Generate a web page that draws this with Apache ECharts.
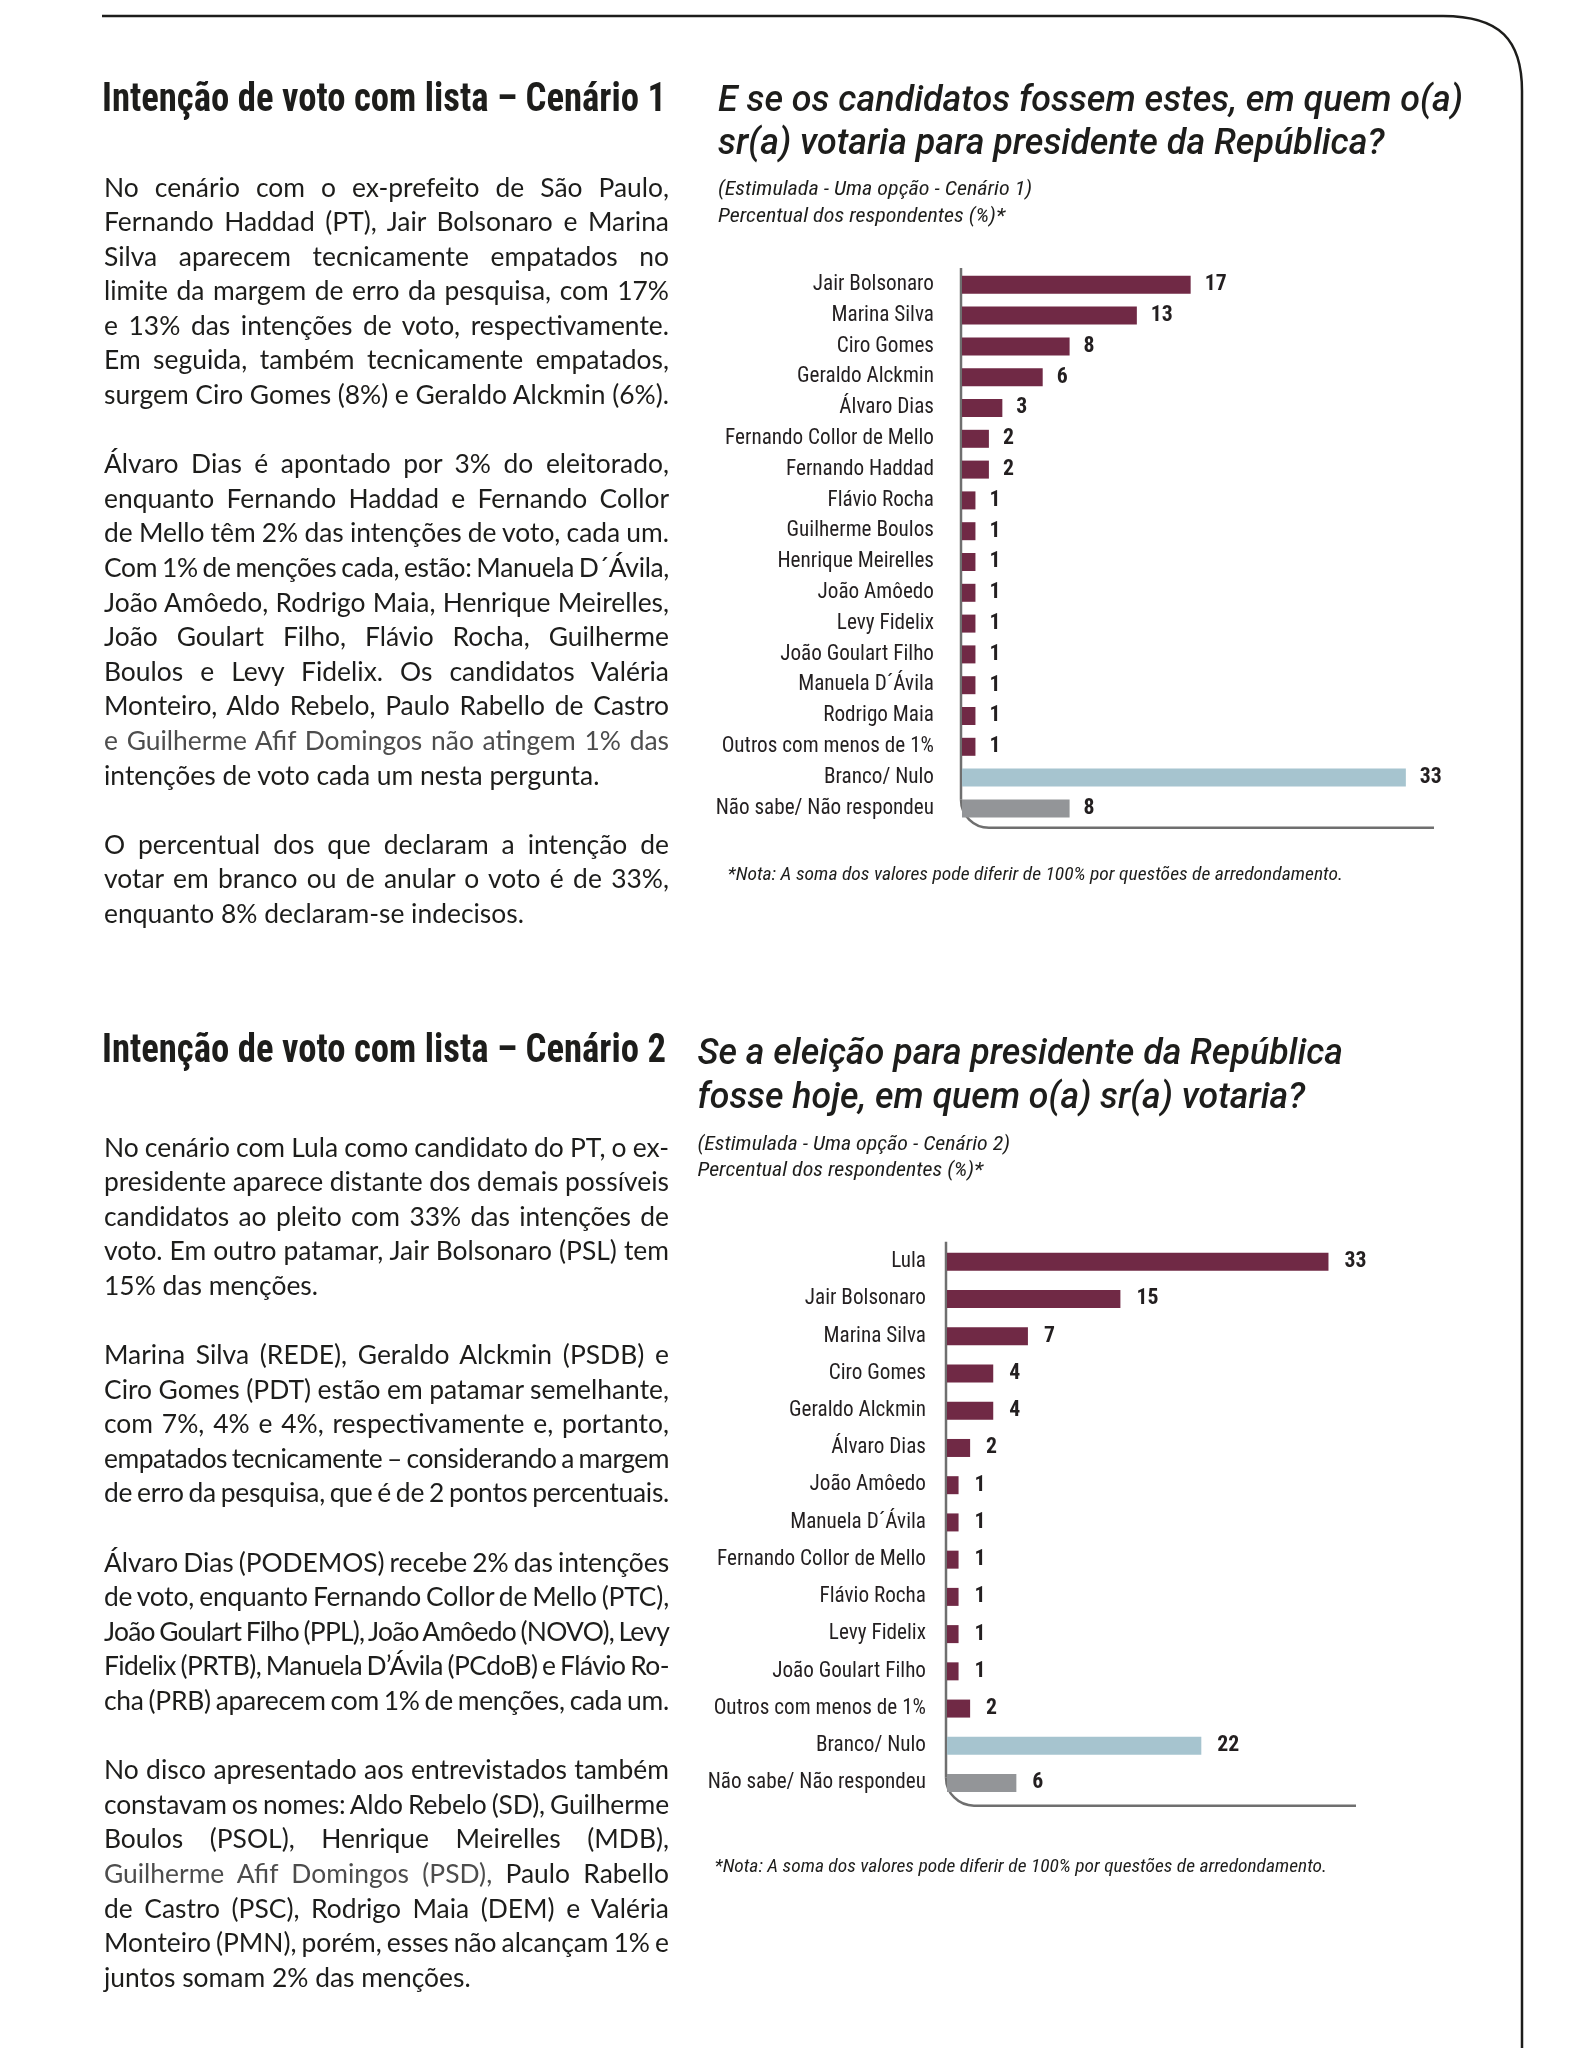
<!DOCTYPE html>
<html><head><meta charset="utf-8">
<script src="https://cdn.jsdelivr.net/npm/echarts@6/dist/echarts.min.js"></script>
<style>
html,body{margin:0;padding:0;background:#fff;}
#page{position:relative;width:1570px;height:2048px;overflow:hidden;background:#fff;}
#chart{position:absolute;left:0;top:0;width:1570px;height:2048px;}
.col{position:absolute;left:104px;width:565px;color:#1d1d1b;font-family:Lato,'Open Sans','Noto Sans',sans-serif;font-size:25px;}
.ln{height:34.6px;line-height:34.6px;white-space:nowrap;}
.h{position:absolute;left:102px;height:50px;line-height:50px;white-space:nowrap;font-family:'Roboto Condensed','DejaVu Sans Condensed',sans-serif;font-weight:700;font-size:40px;color:#1d1d1b;transform-origin:0 50%;}
.g{color:#4d4d4d;}
</style></head>
<body><div id="page"><div id="chart"></div>
<div class="h" id="h1" style="top:73px">Intenção de voto com lista – Cenário 1</div>
<div class="col" style="top:169.5px">
<div class="ln j"><span>No cenário com o ex-prefeito de São Paulo,</span></div>
<div class="ln j"><span>Fernando Haddad (PT), Jair Bolsonaro e Marina</span></div>
<div class="ln j"><span>Silva aparecem tecnicamente empatados no</span></div>
<div class="ln j"><span>limite da margem de erro da pesquisa, com 17%</span></div>
<div class="ln j"><span>e 13% das intenções de voto, respectivamente.</span></div>
<div class="ln j"><span>Em seguida, também tecnicamente empatados,</span></div>
<div class="ln j"><span>surgem Ciro Gomes (8%) e Geraldo Alckmin (6%).</span></div>
<div class="ln"></div>
<div class="ln j"><span>Álvaro Dias é apontado por 3% do eleitorado,</span></div>
<div class="ln j"><span>enquanto Fernando Haddad e Fernando Collor</span></div>
<div class="ln j"><span>de Mello têm 2% das intenções de voto, cada um.</span></div>
<div class="ln j"><span>Com 1% de menções cada, estão: Manuela D´Ávila,</span></div>
<div class="ln j"><span>João Amôedo, Rodrigo Maia, Henrique Meirelles,</span></div>
<div class="ln j"><span>João Goulart Filho, Flávio Rocha, Guilherme</span></div>
<div class="ln j"><span>Boulos e Levy Fidelix. Os candidatos Valéria</span></div>
<div class="ln j"><span>Monteiro, Aldo Rebelo, Paulo Rabello de Castro</span></div>
<div class="ln j"><span class="g">e Guilherme Afif Domingos não atingem 1% das</span></div>
<div class="ln l" data-w="497.6"><span>intenções de voto cada um nesta pergunta.</span></div>
<div class="ln"></div>
<div class="ln j"><span>O percentual dos que declaram a intenção de</span></div>
<div class="ln j"><span>votar em branco ou de anular o voto é de 33%,</span></div>
<div class="ln l" data-w="432.5"><span>enquanto 8% declaram-se indecisos.</span></div>
</div>
<div class="h" id="h2" style="top:1024px">Intenção de voto com lista – Cenário 2</div>
<div class="col" style="top:1129.5px">
<div class="ln j"><span>No cenário com Lula como candidato do PT, o ex-</span></div>
<div class="ln j"><span>presidente aparece distante dos demais possíveis</span></div>
<div class="ln j"><span>candidatos ao pleito com 33% das intenções de</span></div>
<div class="ln j"><span>voto. Em outro patamar, Jair Bolsonaro (PSL) tem</span></div>
<div class="ln l" data-w="208"><span>15% das menções.</span></div>
<div class="ln"></div>
<div class="ln j"><span>Marina Silva (REDE), Geraldo Alckmin (PSDB) e</span></div>
<div class="ln j"><span>Ciro Gomes (PDT) estão em patamar semelhante,</span></div>
<div class="ln j"><span>com 7%, 4% e 4%, respectivamente e, portanto,</span></div>
<div class="ln j"><span>empatados tecnicamente – considerando a margem</span></div>
<div class="ln j"><span>de erro da pesquisa, que é de 2 pontos percentuais.</span></div>
<div class="ln"></div>
<div class="ln j"><span>Álvaro Dias (PODEMOS) recebe 2% das intenções</span></div>
<div class="ln j"><span>de voto, enquanto Fernando Collor de Mello (PTC),</span></div>
<div class="ln j"><span>João Goulart Filho (PPL), João Amôedo (NOVO), Levy</span></div>
<div class="ln j"><span>Fidelix (PRTB), Manuela D’Ávila (PCdoB) e Flávio Ro-</span></div>
<div class="ln j"><span>cha (PRB) aparecem com 1% de menções, cada um.</span></div>
<div class="ln"></div>
<div class="ln j"><span>No disco apresentado aos entrevistados também</span></div>
<div class="ln j"><span>constavam os nomes: Aldo Rebelo (SD), Guilherme</span></div>
<div class="ln j"><span>Boulos (PSOL), Henrique Meirelles (MDB),</span></div>
<div class="ln j"><span><span class="g">Guilherme Afif Domingos (PSD),</span> Paulo Rabello</span></div>
<div class="ln j"><span>de Castro (PSC), Rodrigo Maia (DEM) e Valéria</span></div>
<div class="ln j"><span>Monteiro (PMN), porém, esses não alcançam 1% e</span></div>
<div class="ln l" data-w="359"><span>juntos somam 2% das menções.</span></div>
</div>
</div>
<script>
// ---------------- DATA ----------------
const categories1 = ['Jair Bolsonaro','Marina Silva','Ciro Gomes','Geraldo Alckmin','Álvaro Dias','Fernando Collor de Mello','Fernando Haddad','Flávio Rocha','Guilherme Boulos','Henrique Meirelles','João Amôedo','Levy Fidelix','João Goulart Filho','Manuela D´Ávila','Rodrigo Maia','Outros com menos de 1%','Branco/ Nulo','Não sabe/ Não respondeu'];
const values1 = [17,13,8,6,3,2,2,1,1,1,1,1,1,1,1,1,33,8];
const categories2 = ['Lula','Jair Bolsonaro','Marina Silva','Ciro Gomes','Geraldo Alckmin','Álvaro Dias','João Amôedo','Manuela D´Ávila','Fernando Collor de Mello','Flávio Rocha','Levy Fidelix','João Goulart Filho','Outros com menos de 1%','Branco/ Nulo','Não sabe/ Não respondeu'];
const values2 = [33,15,7,4,4,2,1,1,1,1,1,1,2,22,6];
const title1 = ['E se os candidatos fossem estes, em quem o(a)','sr(a) votaria para presidente da República?'];
const title2 = ['Se a eleição para presidente da República','fosse hoje, em quem o(a) sr(a) votaria?'];
const subtitle1 = ['(Estimulada - Uma opção - Cenário 1)','Percentual dos respondentes (%)*'];
const subtitle2 = ['(Estimulada - Uma opção - Cenário 2)','Percentual dos respondentes (%)*'];
const noteText = '*Nota: A soma dos valores pode diferir de 100% por questões de arredondamento.';

// ---------------- STYLE ----------------
const BAR = '#702945', BLUE = '#a6c4cf', GREY = '#939598', INK = '#231f20';
const specialColor = {'Branco/ Nulo': BLUE, 'Não sabe/ Não respondeu': GREY};
const FAM = '"Roboto Condensed", "DejaVu Sans Condensed", sans-serif';
const TFAM = 'Roboto, "DejaVu Sans", sans-serif';

const cv = document.createElement('canvas').getContext('2d');
function tw(text,size,weight,style,fam){cv.font=(style||'normal')+' '+(weight||'normal')+' '+size+'px '+(fam||FAM);return cv.measureText(text).width;}

// body text calibration
const cols=[...document.querySelectorAll('.col')];
const lastLines=[...document.querySelectorAll('.ln.l')];
let mSum=0,tSum=0;
lastLines.forEach(l=>{mSum+=l.firstElementChild.getBoundingClientRect().width;tSum+=parseFloat(l.dataset.w);});
const bodySize=25*tSum/mSum;
cols.forEach(c=>c.style.fontSize=bodySize+'px');
const COLW=565;
document.querySelectorAll('.ln.j').forEach(l=>{
  const sp=l.firstElementChild; const w=sp.getBoundingClientRect().width;
  const n=(sp.textContent.match(/ /g)||[]).length;
  if(n===0) return;
  let ws=(COLW-w)/n; const minWs=-bodySize*0.06;
  if(ws<minWs){
    ws=minWs;
    const chars=sp.textContent.length;
    l.style.letterSpacing=((COLW-(w+n*ws))/chars)+'px';
  }
  l.style.wordSpacing=ws+'px';
});
['h1','h2'].forEach(id=>{
  const h=document.getElementById(id);
  const r=document.createRange(); r.selectNodeContents(h); const w=r.getBoundingClientRect().width;
  h.style.transform='scaleX('+(564/w)+')';
});

// chart font sizes
const catSize = 20*209/tw('Fernando Collor de Mello',20);
const valSize = 20*22/tw('33',20,'bold');

const G1={left:962, top:269.4, unit:13.45, rowH:30.8, labelMargin:28, labelDist:14, lineEnd:1434};
const G2={left:947, top:1243.2, unit:11.56, rowH:37.23, labelMargin:21, labelDist:16, lineEnd:1356};
const XMAX=35;
[G1,G2].forEach((g,i)=>{g.width=XMAX*g.unit; g.height=(i?categories2:categories1).length*g.rowH;});

function series(cats,vals,gi,g){
  return {type:'bar',xAxisIndex:gi,yAxisIndex:gi,barWidth:18,silent:true,
    data:vals.map((v,i)=>({value:v,itemStyle:{color:specialColor[cats[i]]||BAR}})),
    label:{show:true,position:'right',distance:g.labelDist,color:INK,fontFamily:FAM,fontWeight:'bold',fontSize:valSize}};
}
function yAx(cats,gi,g){return {type:'category',gridIndex:gi,data:cats,inverse:true,axisLine:{show:false},axisTick:{show:false},splitLine:{show:false},
  axisLabel:{margin:g.labelMargin,color:INK,fontFamily:FAM,fontSize:catSize}};}
function xAx(gi){return {type:'value',gridIndex:gi,min:0,max:XMAX,show:false};}

function fitText(lines,left,cys,width,size,style,weight,color,fam){
  fam=fam||FAM;
  const s=width/tw(lines[0],size,weight,style,fam);
  return lines.map((t,i)=>({type:'text',x:left,y:cys[i],scaleX:s,silent:true,
    style:{text:t,x:0,y:0,fontFamily:fam,fontSize:size,fontStyle:style,fontWeight:weight,fill:color,align:'left',verticalAlign:'middle'}}));
}
function frame(g){
  const x0=g.left-1, top=g.top-1.5, yb=g.top+g.height+4, r=28, st={stroke:'#6f6f6f',lineWidth:2.5};
  return [
    {type:'line',silent:true,shape:{x1:x0,y1:top,x2:x0,y2:yb-r},style:st},
    {type:'arc',silent:true,shape:{cx:x0+r,cy:yb-r,r:r,startAngle:Math.PI/2,endAngle:Math.PI,clockwise:true},style:Object.assign({fill:null},st)},
    {type:'line',silent:true,shape:{x1:x0+r,y1:yb,x2:g.lineEnd,y2:yb},style:st}
  ];
}
const pageFrame=[
  {type:'line',silent:true,shape:{x1:102,y1:16,x2:1443,y2:16},style:{stroke:'#1d1d1b',lineWidth:2.5}},
  {type:'bezierCurve',silent:true,shape:{x1:1443,y1:16,cpx1:1500,cpy1:16,cpx2:1522,cpy2:40,x2:1522,y2:91},style:{stroke:'#1d1d1b',lineWidth:2.5,fill:null}},
  {type:'line',silent:true,shape:{x1:1522,y1:91,x2:1522,y2:2048},style:{stroke:'#1d1d1b',lineWidth:2.5}}
];

const graphics=[].concat(
  pageFrame,
  fitText(title1,718,[102,145],745,36,'italic','500','#1d1d1b',TFAM),
  fitText(subtitle1,718,[190,217],314,21,'italic','normal','#1d1d1b'),
  fitText([noteText],727.5,[875],615.5,18,'italic','normal','#1d1d1b'),
  fitText(title2,697.5,[1054.5,1099],645.5,36,'italic','500','#1d1d1b',TFAM),
  fitText(subtitle2,697.5,[1145,1171],312.5,21,'italic','normal','#1d1d1b'),
  fitText([noteText],714.5,[1867],612.5,18,'italic','normal','#1d1d1b'),
  frame(G1),frame(G2)
);

const chart=echarts.init(document.getElementById('chart'),null,{renderer:'canvas',width:1570,height:2048});
chart.setOption({
  animation:false,
  grid:[G1,G2].map(g=>({left:g.left,top:g.top,width:g.width,height:g.height,containLabel:false,outerBoundsMode:'none'})),
  xAxis:[xAx(0),xAx(1)],
  yAxis:[yAx(categories1,0,G1),yAx(categories2,1,G2)],
  series:[series(categories1,values1,0,G1),series(categories2,values2,1,G2)],
  graphic:graphics
});
</script>
</body></html>
